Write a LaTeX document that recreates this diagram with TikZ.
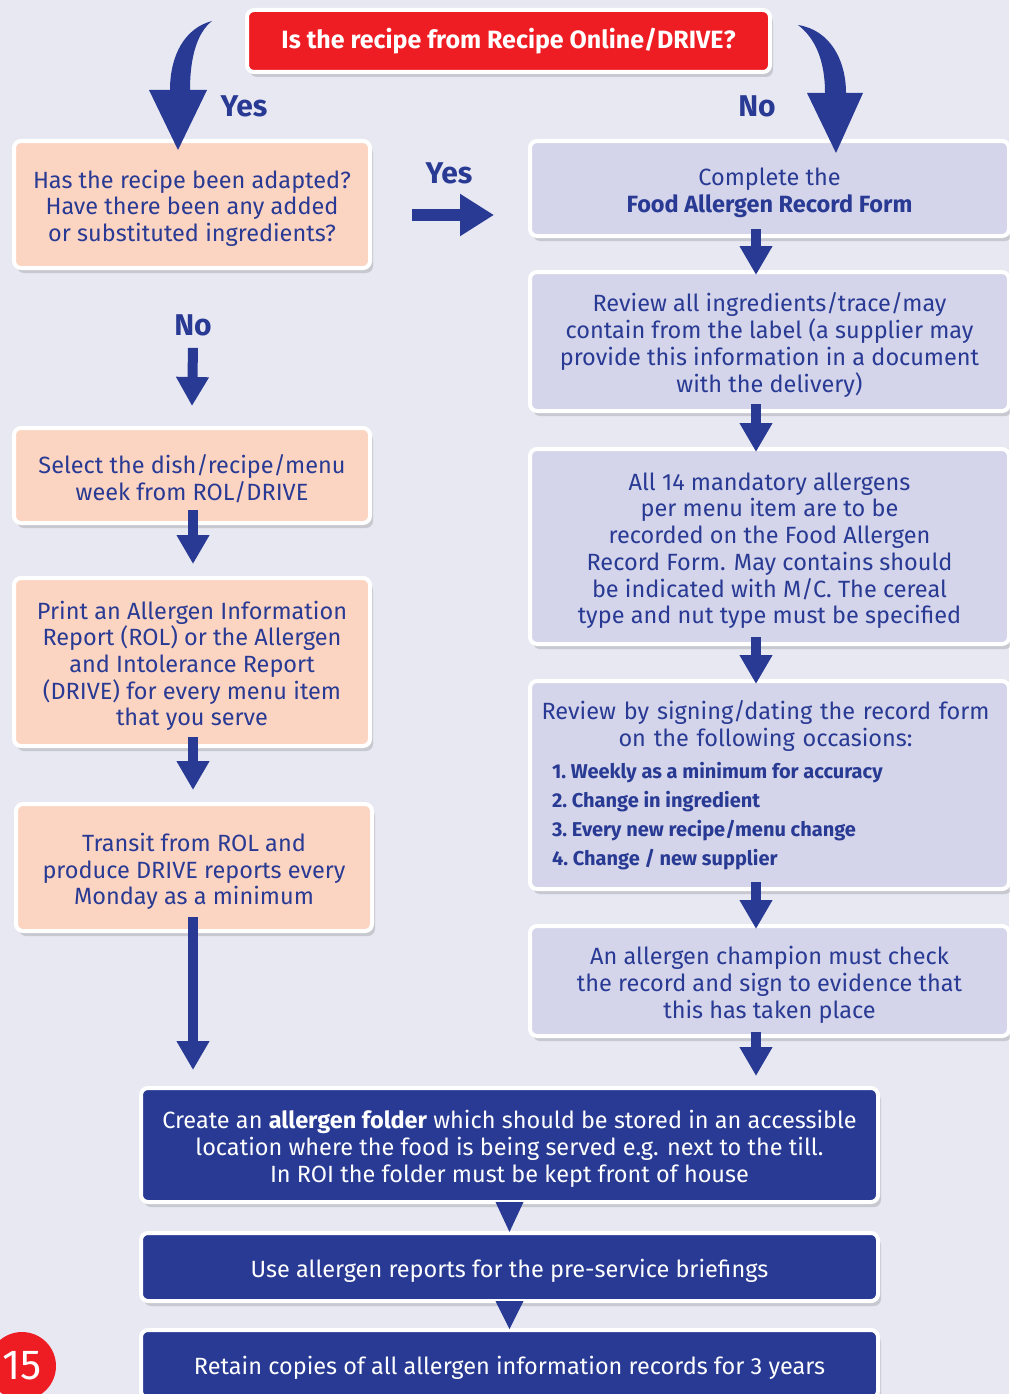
\documentclass[tikz,border=0pt]{standalone}
\usepackage{fontspec}
\setmainfont{Fira Sans}
\usetikzlibrary{shadows,arrows.meta}
\definecolor{bg}{HTML}{E8E8F3}
\definecolor{peach}{HTML}{FCD4C2}
\definecolor{lav}{HTML}{D4D4EA}
\definecolor{dblue}{HTML}{283A93}
\definecolor{qred}{HTML}{EE1D24}
\newcommand\tp{\rule{0pt}{26pt}}
\begin{document}
\begin{tikzpicture}[x=1pt,y=-1pt,
  box/.style={draw=white, line width=4pt, rounded corners=7pt, align=center, inner sep=0pt,
    text=dblue, font=\fontsize{23.5}{26.7}\selectfont,
    drop shadow={shadow xshift=3pt, shadow yshift=-5pt, opacity=0.3}},
  lbox/.style={box, fill=peach, minimum width=356pt},
  rbox/.style={box, fill=lav, minimum width=479pt},
  bbox/.style={box, fill=dblue, text=white, minimum width=737pt},
  flow/.style={draw=dblue, line width=10pt, -{Triangle[width=31pt,length=29pt]}},
  lab/.style={text=dblue, inner sep=0pt, font=\fontsize{30}{30}\selectfont\bfseries}]
\useasboundingbox (0,0) rectangle (1009,1394);
\fill[bg] (0,0) rectangle (1009,1394);

% question
\node[box, fill=qred, text=white, minimum width=523pt, minimum height=62pt,
  font=\fontsize{25}{28}\selectfont\bfseries] (q) at (508.5,41) {Is the recipe from Recipe Online/DRIVE?};

% left column
\node[lbox, minimum height=127pt] (l1) at (192,204.5) {\tp Has the recipe been adapted?\\Have there been any added\\or substituted ingredients?};
\node[lbox, minimum height=95pt] (l2) at (192,475.5) {\tp Select the dish/recipe/menu\\week from ROL/DRIVE};
\node[lbox, minimum height=168pt] (l3) at (192,662) {\tp Print an Allergen Information\\Report (ROL) or the Allergen\\and Intolerance Report\\(DRIVE) for every menu item\\that you serve};
\node[lbox, minimum height=127pt] (l4) at (194,867.5) {\tp Transit from ROL and\\produce DRIVE reports every\\Monday as a minimum};

% right column
\node[rbox, minimum height=95pt] (r1) at (769.5,188.5) {\tp Complete the\\{\bfseries Food Allergen Record Form}};
\node[rbox, minimum height=139pt] (r2) at (769.5,341.5) {\tp Review all ingredients/trace/may\\contain from the label (a supplier may\\provide this information in a document\\with the delivery)};
\node[rbox, minimum height=195pt] (r3) at (769.5,546.5) {\tp All 14 mandatory allergens\\per menu item are to be\\recorded on the Food Allergen\\Record Form. May contains should\\be indicated with M/C. The cereal\\type and nut type must be specified};
\node[box, fill=lav, minimum width=479pt, minimum height=208pt, text width=479pt, align=left] (r4) at (769.5,785) {%
  {\centering\hspace*{-8pt}Review by signing/dating the record form\\\hspace*{-8pt}on the following occasions:\par}%
  \vspace{3pt}%
  {\raggedright\spaceskip=0pt\xspaceskip=0pt\leftskip=22pt\fontsize{20}{29}\selectfont\bfseries
  1.~Weekly as a minimum for accuracy\\
  2.~Change in ingredient\\
  3.~Every new recipe/menu change\\
  4.~Change / new supplier\par}};
\node[rbox, minimum height=110pt] (r5) at (769.5,981) {\tp An allergen champion must check\\the record and sign to evidence that\\this has taken place};

% bottom
\node[bbox, minimum height=114pt] (b1) at (509.5,1145) {\tp Create an {\bfseries allergen folder} which should be stored in an accessible\\location where the food is being served e.g. next to the till.\\In ROI the folder must be kept front of house};
\node[bbox, minimum height=68pt] (b2) at (509.5,1267) {\tp Use allergen reports for the pre-service briefings};
\node[bbox, minimum height=68pt] (b3) at (509.5,1364) {\tp Retain copies of all allergen information records for 3 years};

% curved arrows from the question
\fill[dblue] (212,21) .. controls (185,28) and (170,55) .. (170,90) -- (149,90) -- (178,150) -- (207,90) -- (190,90)
  .. controls (190,55) and (198,32) .. (212,21) -- cycle;
\fill[dblue] (798,25) .. controls (830,30) and (846,60) .. (846,93) -- (863,93) -- (836,153) -- (807,93) -- (825,93)
  .. controls (825,60) and (815,38) .. (798,25) -- cycle;
\node[lab] (yes1) at (244,106) {Yes};
\node[lab] (no1) at (757,106) {No};

% yes arrow
\node[lab] (yes2) at (449,173) {Yes};
\coordinate (ya) at (412,215);
\coordinate (yb) at (494,215);
\draw[draw=dblue, line width=12pt, -{Triangle[width=40pt,length=34pt]}] (ya) -- (yb);

% no arrow
\node[lab] (no2) at (193,325) {No};
\draw[flow] ([yshift=-12pt]no2.south) -- ([yshift=20pt]l2.north);

% left arrows
\draw[flow] ([xshift=1pt,yshift=15pt]l2.south) -- ([xshift=1pt,yshift=12pt]l3.north);
\draw[flow] ([xshift=1pt,yshift=11pt]l3.south) -- ([xshift=-1pt,yshift=12pt]l4.north);
\coordinate (l4b) at (l4.south |- b1.north);
\draw[flow] ([xshift=-1pt,yshift=16pt]l4.south) -- ([xshift=-1pt,yshift=16pt]l4b);

% right arrows
\draw[flow] ([xshift=-13.5pt,yshift=9pt]r1.south) -- ([xshift=-13.5pt,yshift=-5pt]r2.north);
\draw[flow] ([xshift=-13.5pt,yshift=9pt]r2.south) -- ([xshift=-13.5pt,yshift=-5pt]r3.north);
\draw[flow] ([xshift=-13.5pt,yshift=9pt]r3.south) -- ([xshift=-13.5pt,yshift=-5pt]r4.north);
\draw[flow] ([xshift=-13.5pt,yshift=9pt]r4.south) -- ([xshift=-13.5pt,yshift=-5pt]r5.north);
\coordinate (r5b) at ([xshift=-13.5pt]r5.south |- b1.north);
\draw[flow] ([xshift=-13.5pt,yshift=6pt]r5.south) -- ([yshift=10pt]r5b);

% bottom triangles
\fill[dblue] ([xshift=-14pt,yshift=2pt]b1.south) -- ([xshift=14pt,yshift=2pt]b1.south) -- ([yshift=-1pt]b2.north) -- cycle;
\fill[dblue] ([xshift=-14pt,yshift=2pt]b2.south) -- ([xshift=14pt,yshift=2pt]b2.south) -- ([yshift=-1pt]b3.north) -- cycle;

% page number
\node[circle, fill=qred, minimum size=68pt, inner sep=0pt, text=white, font=\fontsize{42}{42}\selectfont] (pg) at (22,1366) {15};
\end{tikzpicture}
\end{document}
